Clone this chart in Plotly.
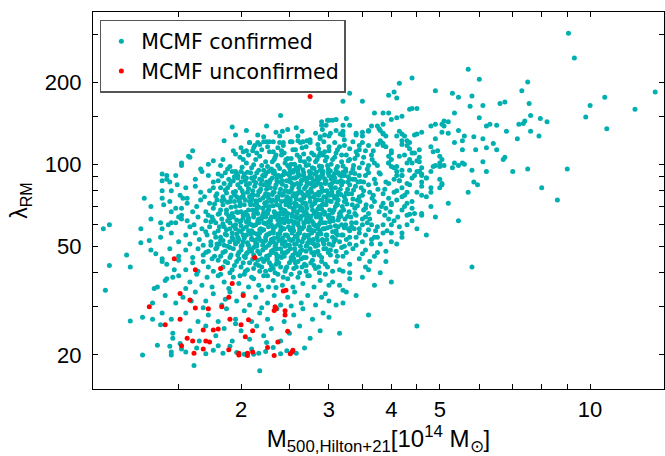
import math
import plotly.graph_objects as go

# ---- data (M500 in 1e14 Msun, lambda_RM) ----
confirmed_outer = [
    (9.05,302),(9.3,245),(5.7,223),(6.0,205),(4.4,207),(4.15,198),(7.5,200),(7.3,186),(4.9,186),(4.05,184),
    (3.95,179),(4.1,175),(5.3,182),(5.45,176),(5.8,178),(13.5,184),(10.7,176),(10.0,164),(12.3,159),(9.8,149),
    (10.8,135),(7.55,167),(7.6,151),(7.95,147),(8.2,143),(6.6,167),(6.75,169),(6.1,164),(5.75,163),(5.35,154),
    (6.0,148),(6.3,140),(6.2,138),(6.5,139),(6.8,132),(7.15,124),(7.2,140),(7.35,141),(7.4,144),(7.6,132),
    (7.9,127),(7.5,96),(9.0,96),(7.0,94),(8.0,82),(8.6,74),(6.2,94),(5.8,95),(5.85,86),(5.95,84),(5.7,79),
    (6.7,104),(6.75,106),(6.5,113),(6.4,119),(6.2,115),(6.1,102),(5.9,113),(5.85,126),(6.1,124),(5.45,133),
    (5.55,122),(5.6,127),(5.1,144),(5.2,143),(5.05,140),(5.1,138),(5.05,131),(5.2,130),(4.8,138),(4.9,140),
    (5.35,101),(5.45,99),(5.55,101),(5.6,100),(5.55,113),(5.35,120),(4.95,112),(4.9,124),(5.0,101),(4.9,99),
    (5.0,98),(5.3,97),(5.05,84),(5.0,82),(4.8,82),(4.8,79),(4.7,76),(5.8,42),(4.5,25.5),(4.7,55),(4.9,64),
    (4.6,65),(5.45,62),(3.3,182),(3.2,170),(3.5,170),(3.7,154),(3.85,154),(3.95,154),(2.4,151),
]
confirmed_upper = [
    (1.92,137),(2.05,133),(1.95,128),(1.85,122),(1.93,112),(2.05,112),(2.08,120),(2.12,115),(1.6,112),(1.58,106),
    (2.25,138),(2.16,128),(2.22,126),(2.35,131),(2.42,132),(2.48,134),(2.58,136),(2.65,132),(2.82,130),(2.91,134),
    (2.96,139),(3.0,145),(2.9,143),(3.02,130),(2.94,128),(2.88,126),(2.16,120),(2.22,121),(2.28,121),(2.32,111),
    (2.39,120),(2.43,117),(2.51,121),(2.6,122),(2.63,120),(2.71,122),(2.75,120),(2.18,107),(2.28,111),(2.34,106),
    (2.41,112),(2.48,105),(2.54,113),(2.59,108),(2.65,115),(2.73,105),(2.8,108),(2.88,110),(2.92,108),(3.0,112),
    (3.05,104),(2.39,127),(2.32,121),(2.43,120),(2.53,121),(2.6,127),(2.66,121),(2.75,123),(2.88,124),(3.0,127),
    (2.08,120),(2.18,118),(2.25,121),(2.02,111),(2.11,112),(3.05,145),(2.98,145),(2.9,139),
    (3.1,146),(3.25,147),(3.3,139),(3.16,129),(3.2,132),(3.22,123),(3.4,130),(3.5,127),(3.6,132),(3.65,138),
    (3.5,120),(3.45,117),(3.78,135),(3.85,130),(3.9,127),(3.82,120),(3.85,117),(3.9,116),(4.0,110),(3.95,101),
    (4.05,97),(4.1,94),(4.15,107),(4.25,108),(4.3,101),(4.35,104),(4.4,110),(4.45,110),(4.55,106),(4.55,102),
    (4.6,97),(4.5,94),(4.6,92),(4.15,132),(4.2,129),(4.25,127),(4.3,122),(4.35,120),(4.5,129),(4.5,160),
    (4.4,160),(4.35,159),(4.1,148),(4.2,150),(4.0,146),(4.8,116),(4.85,111),(5.0,107),(5.05,104),(5.1,99),
    (4.85,98),(4.8,94),(5.0,88),(5.05,85),(3.75,138),(3.6,133),(3.5,131),(3.4,128),(3.2,139),(3.2,128),(3.1,133),
    (3.85,140),(3.8,133),(3.85,129),(3.8,122),(3.85,119),(3.75,118),(4.6,131),(4.45,128),(4.1,127),(4.2,122),
    (4.2,118),(4.3,117),(4.35,114),(4.55,113),(4.5,103),(4.4,101),(4.35,95),(4.55,94),(4.6,91),(4.7,89),
    (4.0,112),(3.95,107),(4.0,104),(3.95,101),(4.0,98),(4.1,98),(4.2,95),(4.1,91),(4.2,91),(4.15,87),
    (2.0,115),(2.07,108),(2.13,117),(2.2,113),(2.26,116),(2.31,102),(2.37,115),(2.44,110),(2.46,104),
    (2.52,100),(2.57,113),(2.62,106),(2.68,102),(2.7,116),(2.77,110),(2.84,104),(2.86,114),(2.94,111),
    (2.97,106),(3.1,110),(3.15,116),(3.25,108),(3.3,114),(3.4,111),(3.55,112),(3.65,108),
    (2.85,118),(2.93,121),(3.0,116),(3.08,120),(3.12,113),(3.18,108),(3.22,117),(3.28,103),(3.35,121),
    (3.38,105),(3.45,113),(3.52,106),(3.6,117),(3.68,112),(3.7,101),(3.45,97),(3.2,93.5),(3.6,99),
]
confirmed_core_high = [
    # lambda ~ 95-110
    (1.52,101),(1.52,99),(1.57,107),(1.76,103),(1.84,104),(1.82,99),(1.9,98),(1.99,106),(2.02,104),
    (2.05,101),(2.1,97),(2.14,104),(2.2,99),(2.24,102),(2.3,96),(2.33,104),(2.37,99),(2.41,108),(2.45,101),
    (2.5,97),(2.52,105),(2.56,100),(2.6,96),(2.63,103),(2.67,109),(2.7,99),(2.74,104),(2.78,97),(2.82,102),
    (2.86,107),(2.9,98),(2.95,103),(2.99,96),(3.03,100),(3.08,106),(3.12,98),(3.18,102),(3.24,96),(3.3,104),
    (3.36,99),(3.42,108),(3.5,101),(3.58,96),(3.66,104),(3.75,99),(1.66,96),(1.72,100),(1.95,109),(2.15,110),
    (2.35,108),(2.62,98),(2.88,95),
    (2.01,97.5),(2.06,93.5),(2.12,99.5),(2.17,95),(2.23,90.5),(2.26,98),(2.32,93),(2.36,89.5),(2.39,96.5),
    (2.43,91.5),(2.48,99),(2.51,94),(2.55,89),(2.58,97),(2.62,91),(2.66,95.5),(2.69,88.5),(2.73,99.5),
    (2.76,93),(2.8,96.5),(2.84,90),(2.87,98.5),(2.91,92.5),(2.94,88.5),(2.98,99),(3.02,94.5),(3.06,90.5),
    (3.1,96),(3.15,91.5),(3.2,98.5),(1.88,96),(1.94,90),(3.28,90),(3.35,96),
    # lambda ~ 80-95
    (1.39,92),(1.42,88),(1.48,91),(1.67,94),(1.72,91),(1.8,92),(1.92,94),(1.97,91),(2.0,94),(1.95,94),
    (1.42,91),(1.39,87),(1.44,86),(1.85,85),(1.93,87),(1.97,89),(2.0,86),(2.05,89),(2.1,89),(2.12,87),
    (1.62,88),(1.76,86),(1.86,93),(2.03,92),(2.08,85),(2.15,93),(2.18,88),(2.21,91),(2.25,86),(2.27,94),
    (2.31,89),(2.34,92),(2.38,86),(2.4,90),(2.44,94),(2.47,87),(2.5,91),(2.53,85),(2.57,89),(2.6,93),
    (2.64,87),(2.67,91),(2.71,86),(2.74,94),(2.77,89),(2.81,92),(2.85,86),(2.88,90),(2.92,94),(2.96,87),
    (3.0,91),(3.04,85),(3.08,89),(3.13,93),(3.17,87),(3.22,91),(3.27,86),(3.32,93),(3.38,88),(3.45,91),
    (3.52,86),(3.6,93),(3.7,88),(3.8,92),(3.9,86),(4.15,87),(4.2,91),(4.3,85),(4.6,86),(4.6,83),(4.55,94),
    (4.7,89),(4.45,91),(2.22,95),(2.55,95),(2.9,95),
    (1.83,90.5),(1.89,88),(1.96,92.5),(2.02,89.5),(2.09,93),(2.13,90),(2.19,84.5),(2.24,92),(2.29,87.5),
    (2.33,94.5),(2.38,91),(2.42,87),(2.46,92.5),(2.51,88.5),(2.54,93.5),(2.59,90),(2.63,84.5),(2.67,93),
    (2.72,89),(2.75,91.5),(2.79,86.5),(2.83,93.5),(2.87,88.5),(2.91,91),(2.95,85),(2.99,93),(3.03,88.5),
    (3.08,92.5),(3.12,86),(3.18,90.5),(3.24,94),(3.3,88),(3.38,92.5),(3.47,86.5),
    # lambda ~ 75-85
    (1.49,84),(1.55,82),(1.51,77),(1.53,75),(1.56,75),(1.66,79),(1.73,80),(1.76,82),(1.82,82),(1.88,82),
    (1.39,80),(1.45,80),(1.28,75),(1.39,75),(4.3,79),(4.05,79),(4.2,82),(3.95,85),(4.5,79),(4.6,77),(4.2,76),
    (1.62,83),(1.69,76),(1.79,78),(1.84,76),(1.9,84),(1.93,79),(1.96,76),(1.99,82),(2.02,78),(2.05,84),
    (2.08,76),(2.11,80),(2.13,83),(2.16,77),(2.19,81),(2.22,84),(2.24,78),(2.27,75),(2.29,82),(2.32,79),
    (2.35,84),(2.37,76),(2.4,81),(2.43,78),(2.46,83),(2.49,75),(2.52,80),(2.55,84),(2.58,77),(2.61,82),
    (2.64,79),(2.67,75),(2.7,83),(2.73,78),(2.76,81),(2.8,76),(2.83,84),(2.86,79),(2.9,82),(2.93,76),
    (2.97,80),(3.01,84),(3.05,77),(3.09,82),(3.13,79),(3.18,84),(3.22,76),(3.27,81),(3.33,78),(3.39,83),
    (3.45,76),(3.52,80),(3.6,84),(3.68,77),(3.76,81),(3.85,78),(2.0,75.5),(2.26,83),(2.5,79),(2.78,84),(3.0,77),
    (1.8,87),(1.86,80.5),(1.91,86.5),(1.94,77.5),(1.97,84),(2.01,80),(2.04,87),(2.07,81.5),(2.1,77),
    (2.14,85.5),(2.17,79.5),(2.2,87.5),(2.23,76.5),(2.25,81),(2.28,85.5),(2.31,77.5),(2.34,82),(2.36,87),
    (2.39,78.5),(2.42,84.5),(2.45,80),(2.47,76),(2.5,86.5),(2.53,82),(2.56,78),(2.59,85),(2.62,79.5),
    (2.65,87.5),(2.68,81.5),(2.71,77),(2.74,85),(2.77,79),(2.8,83),(2.83,87.5),(2.86,77),(2.89,84.5),
    (2.92,80),(2.95,86),(2.99,78),(3.03,82),(3.07,86.5),(3.11,76.5),(3.16,81),(3.2,86),(3.25,78.5),
    (3.3,84),(3.36,80.5),(3.43,86),
]
confirmed_core_mid = [
    # lambda ~ 65-80
    (1.48,69),(1.52,69),(1.5,64),(1.52,65),(1.6,67),(1.45,67),(4.4,69),(4.45,66),(4.3,65),(4.1,74),(4.0,72),
    (4.3,72),(4.4,73),(3.55,69),(3.65,70),(3.85,72),(4.0,71),(4.6,66),(4.35,65.5),(1.44,73),
    (1.32,70),(1.4,71),(1.56,72),(1.63,70),(1.66,74),(1.7,67),(1.73,72),(1.76,69),(1.79,74),(1.81,66),
    (1.84,71),(1.87,68),(1.9,73),(1.92,66),(1.95,70),(1.98,74),(2.0,67),(2.03,71),(2.06,65),(2.08,73),
    (2.11,68),(2.13,71),(2.16,66),(2.18,74),(2.21,69),(2.23,72),(2.26,66),(2.28,70),(2.31,74),(2.33,67),
    (2.36,71),(2.38,65),(2.41,73),(2.43,68),(2.46,71),(2.48,66),(2.51,74),(2.54,69),(2.56,72),(2.59,66),
    (2.62,70),(2.64,74),(2.67,67),(2.7,71),(2.72,65),(2.75,73),(2.78,68),(2.81,72),(2.84,66),(2.87,70),
    (2.9,74),(2.93,67),(2.96,71),(3.0,65),(3.03,73),(3.07,68),(3.11,72),(3.15,66),(3.19,70),(3.24,74),
    (3.29,67),(3.34,71),(3.4,65),(3.46,73),(3.52,68),(3.6,66),(3.7,73),(3.78,67),(3.9,69),(4.2,68),(4.8,70),
    (5.2,72),(2.15,68.5),(2.4,66.5),(2.65,69),(2.9,68.5),(1.88,72.5),(2.1,74.5),(2.35,73.5),(2.58,74.5),
    (1.72,65),(1.77,71.5),(1.82,68),(1.85,74),(1.89,64.5),(1.91,69.5),(1.94,73),(1.97,66.5),(1.99,70.5),
    (2.02,63.5),(2.04,74),(2.07,68),(2.09,71),(2.12,65.5),(2.14,73.5),(2.17,69.5),(2.19,63),(2.22,66.5),
    (2.25,72.5),(2.27,68),(2.3,64),(2.32,70.5),(2.35,66),(2.37,74.5),(2.4,69),(2.42,63),(2.45,67),(2.47,73),
    (2.5,70),(2.53,64.5),(2.55,67.5),(2.58,71.5),(2.6,63.5),(2.63,68),(2.66,72),(2.69,65),(2.71,69),
    (2.74,63),(2.77,70.5),(2.8,66),(2.82,74),(2.85,68.5),(2.88,64),(2.91,71),(2.94,65.5),(2.97,73.5),
    (3.01,68),(3.05,63.5),(3.09,70),(3.13,74),(3.17,64.5),(3.21,68),(3.26,71.5),(3.32,64),(3.38,69),
    (1.78,76.5),(1.83,73.5),(1.87,78.5),(1.91,75.5),(1.95,79.5),(1.99,72.5),(2.02,76),(2.06,79),(2.09,73),
    (2.12,77),(2.15,71.5),(2.18,79.5),(2.21,75),(2.24,70.5),(2.27,77.5),(2.3,73),(2.33,79),(2.36,75.5),
    (2.39,70.5),(2.42,77),(2.45,73.5),(2.48,79.5),(2.51,72),(2.54,76.5),(2.57,70),(2.6,78.5),(2.63,74),
    (2.66,77.5),(2.69,72),(2.72,79),(2.75,75.5),(2.78,71),(2.82,77.5),(2.85,74),(2.89,79),(2.92,71.5),
    (2.96,76),(3.0,73.5),(3.04,79.5),(3.08,75),(3.12,71),(3.17,77.5),(3.22,73),(3.28,78),(3.35,74.5),
    (3.42,70.5),(3.5,77),
    # lambda ~ 56-68
    (1.48,61),(1.56,62),(1.58,59),(1.32,63),(1.38,61),(1.45,61),(1.43,60),(1.09,60),(1.06,58),(1.39,58),
    (4.05,62),(4.0,60),(3.95,63),(3.85,60),(3.55,64),(3.5,63),(3.4,61),(3.65,60),
    (1.26,58),(1.52,63),(1.61,60),(1.64,64),(1.67,58),(1.7,62),(1.73,59),(1.75,64),(1.78,61),(1.8,57),
    (1.83,63),(1.85,59),(1.88,62),(1.9,58),(1.93,64),(1.95,60),(1.98,57),(2.0,62),(2.02,65),(2.05,59),
    (2.07,62),(2.1,57),(2.12,64),(2.14,60),(2.17,63),(2.19,58),(2.22,61),(2.24,64),(2.27,59),(2.29,62),
    (2.32,57),(2.34,64),(2.37,60),(2.39,63),(2.42,58),(2.44,61),(2.47,64),(2.49,59),(2.52,62),(2.55,57),
    (2.57,64),(2.6,60),(2.63,63),(2.65,58),(2.68,61),(2.71,64),(2.74,59),(2.77,62),(2.8,57),(2.83,64),
    (2.86,60),(2.89,63),(2.92,58),(2.95,61),(2.99,64),(3.02,59),(3.06,62),(3.1,57),(3.14,64),(3.18,60),
    (3.23,63),(3.28,58),(3.33,61),(3.45,58),(3.58,61),(3.72,57),(4.15,59),(4.4,62),(2.08,60.5),(2.3,60),
    (2.55,60.5),(2.8,60),(1.96,62.5),(2.2,63.5),(2.45,63),(2.7,62.5),
    (1.7,56.5),(1.74,61.5),(1.78,54),(1.81,59),(1.84,52.5),(1.87,57.5),(1.9,61),(1.92,54),(1.95,58),
    (1.97,52),(2.0,59.5),(2.02,55),(2.05,61.5),(2.07,57),(2.1,53.5),(2.12,59.5),(2.15,55.5),(2.17,61),
    (2.19,52.5),(2.22,57.5),(2.24,54),(2.27,61.5),(2.29,56),(2.32,52),(2.34,59),(2.37,55.5),(2.39,61),
    (2.42,53.5),(2.44,58),(2.47,55),(2.49,61.5),(2.52,52.5),(2.54,58.5),(2.57,54.5),(2.6,61),(2.62,56),
    (2.65,52),(2.67,59),(2.7,54.5),(2.73,61.5),(2.76,57.5),(2.79,53),(2.82,59.5),(2.85,55.5),(2.88,61),
    (2.91,53),(2.94,58),(2.97,55),(3.01,61.5),(3.05,56.5),(3.09,53),(3.13,59),(3.18,55),(3.24,60),
    (3.3,54),(3.37,58),
    (1.76,62.5),(1.8,65.5),(1.84,60.5),(1.87,66),(1.9,63.5),(1.93,59.5),(1.96,67),(1.99,61.5),(2.02,58),
    (2.04,66.5),(2.07,63.5),(2.1,60),(2.13,67.5),(2.16,62),(2.18,57.5),(2.21,65),(2.24,60.5),(2.26,67.5),
    (2.29,63),(2.32,58.5),(2.34,66),(2.37,62.5),(2.4,59),(2.43,65.5),(2.45,67.5),(2.48,62),(2.51,57.5),
    (2.53,65.5),(2.56,61.5),(2.59,67),(2.62,58.5),(2.64,64.5),(2.67,61),(2.7,66.5),(2.73,57.5),(2.76,64.5),
    (2.79,61),(2.82,67),(2.85,58),(2.88,65.5),(2.91,61),(2.94,66.5),(2.98,58.5),(3.01,63),(3.05,66.5),
    (3.09,59.5),(3.13,62.5),(3.17,67),(3.22,58.5),(3.27,64.5),(3.33,59),
    # lambda ~ 46-57
    (1.26,51.5),(1.31,52.5),(3.65,51),(3.7,54),(3.8,51),(3.65,53),(3.55,55),(3.85,56),(4.0,56),(4.2,56),
    (4.2,54),(4.1,51),(4.0,52),
    (1.38,54),(1.45,56),(1.5,52),(1.55,55),(1.58,51),(1.62,56),(1.65,53),(1.68,50.5),(1.71,55),(1.74,52),
    (1.77,56),(1.79,51),(1.82,54),(1.85,50.5),(1.87,55),(1.9,52),(1.92,56),(1.95,51),(1.97,54),(2.0,56.5),
    (2.02,52),(2.05,55),(2.07,50.5),(2.1,53),(2.12,56),(2.15,51),(2.17,54),(2.2,57),(2.22,52),(2.25,55),
    (2.27,50.5),(2.3,53),(2.32,56),(2.35,51),(2.37,54),(2.4,57),(2.42,52),(2.45,55),(2.48,50.5),(2.5,53),
    (2.53,56),(2.56,51),(2.59,54),(2.62,57),(2.65,52),(2.68,55),(2.71,50.5),(2.74,53),(2.77,56),(2.8,51),
    (2.84,54),(2.88,57),(2.92,52),(2.96,55),(3.0,51),(3.05,54),(3.1,56),(3.15,52),(3.2,55),(3.3,51),
    (3.4,54),(3.5,52),(2.13,52.5),(2.38,52.5),(2.6,52.5),(2.85,50.5),(1.98,53),
    (1.78,49),(1.82,52.5),(1.86,55.5),(1.9,49.5),(1.93,53),(1.96,55.5),(2.0,50),(2.03,53.5),(2.06,47.5),
    (2.09,55.5),(2.12,49.5),(2.15,53),(2.18,56),(2.21,48.5),(2.24,52.5),(2.27,55.5),(2.3,48),(2.33,53.5),
    (2.36,49),(2.39,55.5),(2.42,47.5),(2.45,52),(2.48,54.5),(2.51,49),(2.54,53),(2.57,47.5),(2.6,55.5),
    (2.63,50),(2.67,53.5),(2.7,48),(2.73,55),(2.77,51.5),(2.81,47.5),(2.85,52.5),(2.89,55.5),(2.93,49),
    (2.97,53),(3.02,48.5),(3.07,52),(3.12,55),(3.18,49.5),(3.25,53),
]
confirmed_core_low = [
    # lambda ~ 45-50
    (1.32,48.5),(1.18,46.5),(1.39,45),
    (1.35,47),(1.44,49),(1.5,46),(1.55,48.5),(1.6,45.5),(1.64,49),(1.68,46.5),(1.72,48),(1.75,45),
    (1.79,49.5),(1.82,46),(1.86,48),(1.9,45.5),(1.93,49),(1.97,46.5),(2.0,48.5),(2.04,45.5),(2.08,49),
    (2.12,46.5),(2.16,48),(2.2,45),(2.24,49.5),(2.28,46.5),(2.32,48.5),(2.36,45.5),(2.4,49),(2.44,46),
    (2.48,48),(2.52,45.5),(2.56,49),(2.6,46.5),(2.65,48.5),(2.7,45.5),(2.75,49),(2.8,46.5),(2.85,48),
    (2.9,45.5),(2.96,49),(3.02,46.5),(3.1,48),(3.2,46),(3.35,49),(3.5,47),(3.7,46),(3.9,48),(2.15,50),
    (2.45,50),(2.7,50),(2.05,47),(2.35,47),(2.62,47),
    (1.7,47.5),(1.74,50.5),(1.77,46),(1.81,51),(1.84,47.5),(1.88,50),(1.91,46.5),(1.95,51.5),(1.98,47.5),
    (2.01,50.5),(2.03,46),(2.06,51.5),(2.1,48),(2.13,45.5),(2.14,51),(2.18,47),(2.21,50.5),(2.25,46),
    (2.29,51.5),(2.31,47.5),(2.34,50),(2.38,46),(2.42,51),(2.46,47.5),(2.5,50.5),(2.54,46.5),(2.58,51),
    (2.63,48),(2.67,45.5),(2.72,51.5),(2.77,47.5),(2.82,50),(2.87,46.5),(2.93,51),(2.99,47.5),(3.05,50.5),
    (3.12,46),(3.22,50),
    # lambda ~ 40-45
    (1.09,42.5),(1.2,42),(1.39,44),(1.47,41),(3.1,44),(3.3,43),(3.2,40.5),(3.15,41),(3.3,40),(3.55,42),
    (3.6,41),(3.8,40),
    (1.42,43),(1.5,44.5),(1.55,41),(1.6,43.5),(1.64,40.5),(1.68,44),(1.72,42),(1.76,40.5),(1.8,44.5),
    (1.84,42),(1.88,43.5),(1.92,41),(1.96,44),(2.0,42),(2.04,40.5),(2.08,43.5),(2.12,41.5),(2.16,44.5),
    (2.2,42),(2.24,40.5),(2.28,43.5),(2.32,41.5),(2.36,44.5),(2.4,42),(2.45,40.5),(2.5,43.5),(2.55,41.5),
    (2.6,44),(2.65,42),(2.7,40.5),(2.76,43.5),(2.82,41.5),(2.9,44),(2.98,42),(3.05,40.5),(2.26,45),
    (2.55,45),(1.98,45),
    (1.82,39.5),(1.86,44),(1.9,40),(1.94,42.5),(1.99,39),(2.02,43.5),(2.06,41),(2.1,38.5),(2.14,43),
    (2.18,40.5),(2.22,44),(2.26,39),(2.3,42.5),(2.34,40),(2.38,43.5),(2.43,38.5),(2.47,42),(2.52,39.5),
    (2.57,43.5),(2.62,40),(2.68,43),(2.74,39),(2.8,42.5),(2.87,40),(2.95,43),
    (2.11,44.8),(2.17,42.5),(2.23,44.6),(2.29,41),(2.35,43),(2.41,45.5),(2.46,41.5),(2.52,44.5),(2.58,42),
    (2.64,45),(2.7,42.5),(2.78,44.5),(2.86,42),
    # lambda ~ 35-40
    (1.07,34.5),(1.36,35.5),(1.34,35),(1.41,37.5),(1.42,38),(1.46,38.5),(1.55,35),(3.2,34.5),(3.25,34),
    (3.0,36),(3.05,37),(4.0,37),
    (1.5,39),(1.58,37),(1.63,39.5),(1.67,36),(1.71,38.5),(1.75,35.5),(1.8,39),(1.85,37),(1.89,35),
    (1.93,38.5),(1.98,36.5),(2.03,39.5),(2.07,35.5),(2.12,38),(2.17,36),(2.22,39),(2.27,35.5),(2.32,37.5),
    (2.37,39.5),(2.42,36),(2.48,38),(2.54,35.5),(2.6,38.5),(2.66,36.5),(2.72,39),(2.8,35.5),(2.88,37.5),
    (2.95,39.5),(2.35,35.3),
    # lambda ~ 30-35
    (1.41,33),(1.53,32.5),(1.59,31.5),(1.48,31),(3.0,31.5),
    (1.33,31),(1.62,34),(1.7,31.5),(1.76,33.5),(1.83,30.5),(1.9,34),(1.96,31.5),(2.02,33.5),(2.08,30.5),
    (2.14,32.5),(2.2,34.5),(2.26,31),(2.33,33),(2.4,30.5),(2.48,32.5),(2.56,34),(2.64,31),(2.72,33),
    (2.82,30.5),(2.9,32.5),(3.1,30.5),(1.86,32),(2.52,30.2),
    # lambda ~ 26-30
    (1.27,27.5),(1.33,27),(1.39,28.5),(3.0,27.5),(3.6,28),
    (1.45,27),(1.55,28.5),(1.64,26.5),(1.72,28),(1.8,26.5),(1.87,29.5),(1.95,27),(2.03,29),(2.1,26.5),
    (2.18,28.5),(2.26,27),(2.36,29.5),(2.44,26.5),(2.55,28),(2.66,29.5),(2.78,27),(2.92,28.5),(2.2,29.8),
    (1.68,29.8),
    # lambda ~ 22-26
    (1.2,26.6),(1.38,25.8),(1.46,24),(1.46,23),(1.44,21.5),(1.36,21.7),(1.51,22),(1.52,21),(3.15,24),
    (1.58,24.5),(1.65,22.5),(1.7,25.5),(1.78,23.5),(1.85,25),(1.92,22.5),(2.0,24.5),(2.08,22.8),(2.15,25.5),
    (2.22,23.5),(2.3,25),(2.4,22.5),(2.5,24),(2.62,25.5),(2.75,23),(2.88,24.5),(2.25,22.2),(1.95,26),
    # lambda ~ 17-22
    (1.27,20),(1.45,20),(1.45,20.5),(1.61,18.3),(2.18,17.5),
    (1.55,20.5),(1.63,21.2),(1.7,20.2),(1.76,20.8),(1.84,20.3),(1.9,21.5),(1.96,20.4),(2.03,20.1),(2.1,21),
    (2.17,20.3),(2.24,20.6),(2.32,21.3),(2.4,20.2),(2.47,20.7),(2.58,20.3),(2.68,21.2),(1.8,21.6),(2.12,20.1),
]
confirmed_right_mid = [
    (3.35,88),(3.48,82),(3.55,91),(3.62,79),(3.72,85),(3.78,93),(3.88,81),(3.95,75),(4.05,88),(4.1,80),
    (4.25,77),(4.35,84),(4.4,89),(3.42,74),(3.56,71),(3.66,75),(3.82,70),(3.98,67),(4.12,64),(4.25,70),
    (3.38,66),(3.5,60),(3.62,63),(3.75,59),(3.88,65),(3.92,57),(4.3,60),(4.5,58),(3.3,57),(3.45,56),
    (3.6,57.5),(3.75,54),(3.4,50.5),(3.55,48.5),(3.25,47.5),(3.45,45),(3.62,44),(3.75,47.5),(3.9,44),
    (3.3,38),(3.5,38.5),(3.15,36),(2.95,33.5),(3.2,31),(3.4,33),(3.7,36),
]
unconfirmed = [
    (1.47,45),(1.31,30),(1.41,25.8),(1.51,27),(1.52,21.6),(1.56,23),(1.6,22.5),(1.61,20.3),(1.68,21),
    (1.58,31.8),(1.62,41),(1.62,29.7),(1.68,24.7),(1.72,29.5),(1.7,22.5),(1.73,22.3),(1.76,24.7),(1.8,24.9),
    (1.82,41.5),(1.83,30),(1.89,32.5),(1.9,27),(1.92,36.5),(1.89,20.9),(1.98,20.3),(1.98,20),(2.0,25.8),
    (2.02,33),(2.04,23.3),(2.07,26.9),(2.06,20.3),(2.06,19.9),(2.11,20.5),(2.13,45.5),(2.26,21.3),
    (2.33,19.9),(2.34,30),(2.35,29.6),(2.33,29.1),(2.37,22.3),(2.43,34.3),(2.46,34.5),(2.45,29),(2.45,28),
    (2.48,24.4),(2.51,20.2),(2.53,20.5),(2.54,20.8),(2.75,177),(1.51,33.6),(2.11,24.5),
]

x_major = [2, 3, 4, 5, 10]
x_minor = [1.5, 2.5, 3.5, 4.5, 6, 7, 8, 9]
y_major = [20, 50, 100, 200]
y_minor = [30, 40, 60, 70, 80, 90, 150, 300]

confirmed = (confirmed_outer + confirmed_upper + confirmed_core_high + confirmed_core_mid
             + confirmed_core_low + confirmed_right_mid)
conf_x = [p[0] for p in confirmed]
conf_y = [p[1] for p in confirmed]
unc_x = [p[0] for p in unconfirmed]
unc_y = [p[1] for p in unconfirmed]

TEAL = "#00b0b0"
RED = "#ff0000"
FONT = "Liberation Sans"
MS = 5

fig = go.Figure()
fig.add_trace(go.Scatter(x=conf_x, y=conf_y, mode="markers", name="MCMF confirmed",
                         marker=dict(color=TEAL, size=MS, line=dict(width=0))))
fig.add_trace(go.Scatter(x=unc_x, y=unc_y, mode="markers", name="MCMF unconfirmed",
                         marker=dict(color=RED, size=MS, line=dict(width=0))))

axis_common = dict(ticks="inside", ticklen=5, tickwidth=1, tickcolor="black",
                   showline=True, linecolor="black", linewidth=1.3, mirror="ticks",
                   showgrid=False, zeroline=False, tickfont=dict(family=FONT, size=22))

fig.update_layout(
    width=665, height=456,
    margin=dict(l=93, r=1, t=12, b=67),
    paper_bgcolor="white", plot_bgcolor="white",
    font=dict(family=FONT, color="black", size=22),
    showlegend=True,
    legend=dict(x=0.012, y=0.979, xanchor="left", yanchor="top",
                bgcolor="white", bordercolor="#555555", borderwidth=1.5,
                font=dict(family="DejaVu Sans", size=20.5, color="black"),
                tracegroupgap=0),
    xaxis=dict(type="log", range=[math.log10(1.0106), math.log10(14.06)],
               tickmode="array", tickvals=x_major, ticktext=[str(v) for v in x_major],
               minor=dict(tickmode="array", tickvals=x_minor, ticks="inside", ticklen=5,
                          tickwidth=1, tickcolor="black", showgrid=False),
               title=dict(text="M<sub>500,Hilton+21</sub>[10<sup>14</sup> M<sub>⊙</sub>]",
                          font=dict(family=FONT, size=24), standoff=7),
               **axis_common),
    yaxis=dict(type="log", range=[1.176, 2.558],
               tickmode="array", tickvals=y_major, ticktext=[str(v) for v in y_major],
               minor=dict(tickmode="array", tickvals=y_minor, ticks="inside", ticklen=5,
                          tickwidth=1, tickcolor="black", showgrid=False),
               ticklabelstandoff=6,
               title=dict(text="λ<sub>RM</sub>", font=dict(family=FONT, size=23), standoff=10),
               **axis_common),
)

fig.write_html("out.html")
